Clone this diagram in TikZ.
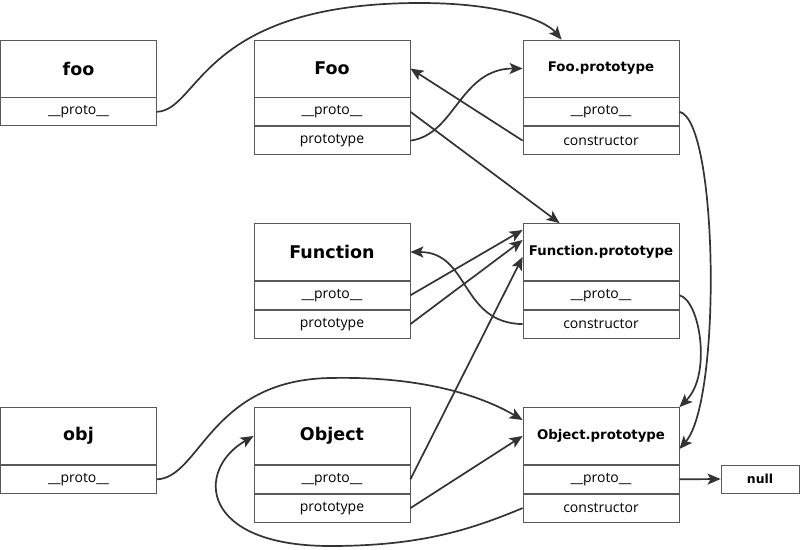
\documentclass[tikz,border=0pt]{standalone}
\usepackage{fontspec}
\setmainfont{Open Sans}
\newfontfamily\titlefont{DejaVu Sans}
\usetikzlibrary{arrows.meta, positioning}
\definecolor{mainGray}{gray}{0.2}
\definecolor{boxGray}{gray}{0.35}

\tikzset{
    head/.style={draw=boxGray, line width=0.8pt, minimum width=156pt, minimum height=57pt, inner sep=0pt, font=\titlefont\bfseries\fontsize{17.5}{20}\selectfont},
    phead/.style={head, font=\titlefont\bfseries\fontsize{13.3}{16}\selectfont},
    field/.style={draw=boxGray, line width=0.8pt, minimum width=156pt, minimum height=28pt, inner sep=0pt, font=\fontsize{14}{16}\selectfont},
    link/.style={->, draw=mainGray, line width=1.7pt},
}

\begin{document}
\begin{tikzpicture}[x=1pt, y=-1pt, >={Stealth[length=13pt, width=11pt, inset=3pt]}]
    \useasboundingbox[fill=white] (0,0) rectangle (800,549);

    \node[head] (fooH) at (78.5,68.5) {foo};
    \node[field, below=0pt of fooH] (fooP) {\_\_proto\_\_};

    \node[head] (FooH) at (332,68.5) {Foo};
    \node[field, below=0pt of FooH] (FooP) {\_\_proto\_\_};
    \node[field, below=0pt of FooP] (FooT) {prototype};

    \node[phead] (FooPH) at (601,68.5) {Foo.prototype};
    \node[field, below=0pt of FooPH] (FooPP) {\_\_proto\_\_};
    \node[field, below=0pt of FooPP] (FooPC) {constructor};

    \node[head] (FuncH) at (332,252) {Function};
    \node[field, below=0pt of FuncH] (FuncP) {\_\_proto\_\_};
    \node[field, below=0pt of FuncP] (FuncT) {prototype};

    \node[phead] (FuncPH) at (601,252) {Function.prototype};
    \node[field, below=0pt of FuncPH] (FuncPP) {\_\_proto\_\_};
    \node[field, below=0pt of FuncPP] (FuncPC) {constructor};

    \node[head] (objH) at (78.5,436) {obj};
    \node[field, below=0pt of objH] (objP) {\_\_proto\_\_};

    \node[head] (ObjH) at (332,436) {Object};
    \node[field, below=0pt of ObjH] (ObjP) {\_\_proto\_\_};
    \node[field, below=0pt of ObjP] (ObjT) {prototype};

    \node[phead] (ObjPH) at (601,436) {Object.prototype};
    \node[field, below=0pt of ObjPH] (ObjPP) {\_\_proto\_\_};
    \node[field, below=0pt of ObjPP] (ObjPC) {constructor};

    \node[field, minimum width=78pt, font=\titlefont\bfseries\fontsize{12.4}{15}\selectfont] (null) at (760,479) {null};

    \draw[link] (fooP.east) .. controls (200,110) and (200,3) .. (420,3) .. controls (500,3) and (545,20) .. ([xshift=39pt]FooPH.north west);
    \draw[link] (FooT.east) .. controls (455,135) and (460,68.5) .. (FooPH.west);
    \draw[link] (FooPC.west) -- (FooH.east);
    \draw[link] (FooP.east) -- ([xshift=37pt]FuncPH.north west);
    \draw[link] (FooPP.east) .. controls (718,120) and (722,400) .. ([yshift=-13pt]ObjPH.east);

    \draw[link] (FuncP.east) -- ([yshift=22pt]FuncPH.west);
    \draw[link] (FuncT.east) -- ([yshift=12pt]FuncPH.west);
    \draw[link] (FuncPC.west) .. controls (460,323) and (470,252) .. (FuncH.east);
    \draw[link] (FuncPP.east) .. controls (700,300) and (712,375) .. (ObjPH.north east);

    \draw[link] (objP.east) .. controls (200,478) and (210,380) .. (330,378) .. controls (420,376) and (480,395) .. ([yshift=16pt]ObjPH.west);
    \draw[link] (ObjP.east) -- ([yshift=-5pt]FuncPH.west);
    \draw[link] (ObjT.east) -- (ObjPH.west);
    \draw[link] (ObjPC.west) .. controls (470,530) and (420,546) .. (330,546) .. controls (200,546) and (195,470) .. (ObjH.west);
    \draw[link] (ObjPP.east) -- (null.west);
\end{tikzpicture}
\end{document}
